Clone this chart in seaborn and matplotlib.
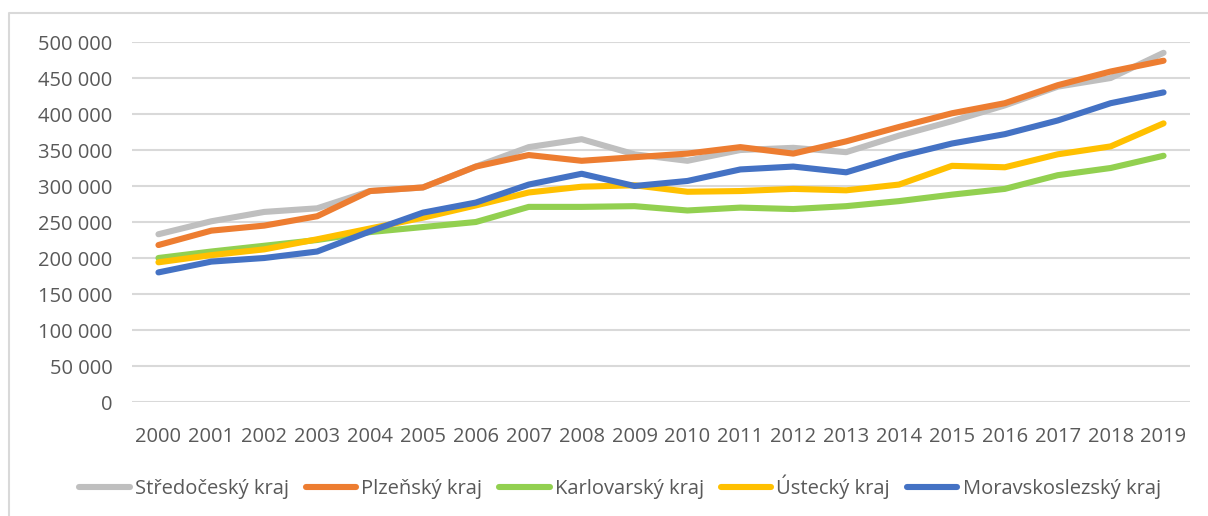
import matplotlib
matplotlib.use("Agg")
import matplotlib.pyplot as plt
import matplotlib.ticker as mticker
import seaborn as sns
import pandas as pd

# Data
years = list(range(2000, 2020))
stredocesky = [233000, 251000, 264000, 269000, 293000, 298000, 327000, 354000, 365000, 344000,
               335000, 350000, 353000, 347000, 370000, 390000, 412000, 438000, 450000, 485000]
plzensky = [218000, 238000, 245000, 258000, 293000, 298000, 327000, 343000, 335000, 340000,
            345000, 354000, 345000, 362000, 382000, 401000, 415000, 440000, 459000, 474000]
karlovarsky = [200000, 209000, 217000, 225000, 236000, 243000, 250000, 271000, 271000, 272000,
               266000, 270000, 268000, 272000, 279000, 288000, 296000, 315000, 325000, 342000]
ustecky = [194000, 204000, 212000, 226000, 241000, 256000, 273000, 291000, 299000, 301000,
           292000, 293000, 296000, 294000, 302000, 328000, 326000, 344000, 355000, 387000]
moravskoslezsky = [180000, 195000, 200000, 209000, 237000, 263000, 277000, 302000, 317000, 300000,
                   307000, 323000, 327000, 319000, 341000, 359000, 372000, 391000, 415000, 430000]

series_names = ["Středočeský kraj", "Plzeňský kraj", "Karlovarský kraj", "Ústecký kraj", "Moravskoslezský kraj"]
colors = ["#BFBFBF", "#ED7D31", "#92D050", "#FFC000", "#4472C4"]

df = pd.DataFrame({"rok": [str(y) for y in years]})
for name, vals in zip(series_names, [stredocesky, plzensky, karlovarsky, ustecky, moravskoslezsky]):
    df[name] = vals
long = df.melt(id_vars="rok", var_name="kraj", value_name="hodnota")

sns.set_style("white")
plt.rcParams["font.family"] = ["Open Sans", "DejaVu Sans"]
text_color = "#595959"

fig = plt.figure(figsize=(12.08, 5.16), dpi=100)
ax = fig.add_axes([132 / 1208, 1 - 402 / 516, (1190 - 132) / 1208, 360 / 516])

sns.lineplot(data=long, x="rok", y="hodnota", hue="kraj", hue_order=series_names,
             palette=colors, linewidth=4.4, ax=ax, legend=False, sort=False)

ax.set_xlim(-0.5, len(years) - 0.5)
ax.set_ylim(0, 500000)
ax.yaxis.set_major_locator(mticker.MultipleLocator(50000))
ax.yaxis.set_major_formatter(mticker.FuncFormatter(lambda v, p: f"{int(v):,}".replace(",", " ")))
ax.grid(axis="y", color="#D9D9D9", linewidth=1.5)
ax.set_axisbelow(True)
for s in ax.spines.values():
    s.set_visible(False)
ax.set_xlabel("")
ax.set_ylabel("")
ax.tick_params(axis="both", length=0, labelsize=14.5, colors=text_color)
ax.tick_params(axis="y", pad=14)
ax.tick_params(axis="x", pad=18)

handles = [plt.Line2D([], [], color=c, linewidth=4.4, solid_capstyle="round") for c in colors]
leg = fig.legend(handles, series_names, loc="center", bbox_to_anchor=(620 / 1208, 1 - 487 / 516),
                 ncol=5, frameon=False, fontsize=14.5, handlelength=2.5, handletextpad=0.25,
                 columnspacing=0.85)
for t in leg.get_texts():
    t.set_color(text_color)

# chart border (left and top visible)
fig.add_artist(plt.Line2D([9 / 1208, 9 / 1208, 1.0], [0.0, 1 - 13 / 516, 1 - 13 / 516],
                          transform=fig.transFigure, color="#D9D9D9", linewidth=1.5))

fig.savefig("out.png", dpi=100)
